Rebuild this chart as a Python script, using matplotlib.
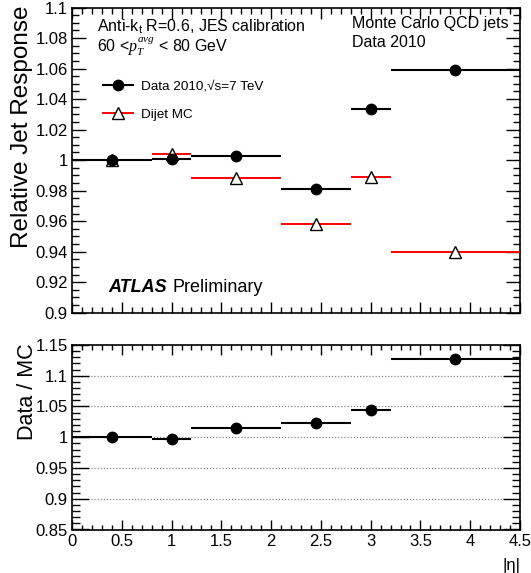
import numpy as np
import matplotlib
matplotlib.use("Agg")
import matplotlib.pyplot as plt
from matplotlib.ticker import MultipleLocator
from matplotlib.lines import Line2D

plt.rcParams['font.family'] = ['Liberation Sans', 'DejaVu Sans']
plt.rcParams['mathtext.fontset'] = 'custom'
plt.rcParams['mathtext.rm'] = 'Liberation Sans'
plt.rcParams['mathtext.it'] = 'Liberation Serif:italic'
plt.rcParams['mathtext.bf'] = 'Liberation Sans:bold'

# ---- data ----
eta_edges = [0.0, 0.8, 1.2, 2.1, 2.8, 3.2, 4.5]
data_resp = [1.000, 1.001, 1.0026, 0.9808, 1.0332, 1.059]
data_err = [0.0012, 0.0012, 0.0010, 0.0015, 0.0030, 0.0030]
mc_resp = [1.000, 1.004, 0.988, 0.9582, 0.9889, 0.9397]
mc_err = [0.0008, 0.0010, 0.0008, 0.0010, 0.0015, 0.0020]
ratio = [1.000, 0.997, 1.0148, 1.0236, 1.0448, 1.127]
ratio_err = [0.0012, 0.0012, 0.0010, 0.0015, 0.0030, 0.0030]

edges = np.array(eta_edges)
centers = 0.5 * (edges[:-1] + edges[1:])
halfw = 0.5 * (edges[1:] - edges[:-1])

W, H = 531, 573
fig = plt.figure(figsize=(W / 100, H / 100), dpi=100)

def axrect(l, t, r, b):
    return [l / W, 1 - b / H, (r - l) / W, (b - t) / H]

ax1 = fig.add_axes(axrect(72, 7.5, 520, 312.7))
ax2 = fig.add_axes(axrect(72, 345, 520, 529.5))

fmt = matplotlib.ticker.FuncFormatter(lambda v, p: ('%g' % round(v, 3)))

for ax in (ax1, ax2):
    for s in ax.spines.values():
        s.set_linewidth(1.2)
    ax.tick_params(which='both', direction='in', top=True, right=True, width=1.0,
                   labelsize=12, pad=3)
    ax.set_xlim(0, 4.5)
    ax.xaxis.set_major_locator(MultipleLocator(0.5))
    ax.xaxis.set_minor_locator(MultipleLocator(0.1))

# top panel
ax1.set_ylim(0.9, 1.1)
ax1.yaxis.set_major_locator(MultipleLocator(0.02))
ax1.yaxis.set_minor_locator(MultipleLocator(0.005))
ax1.tick_params(axis='y', which='major', length=10)
ax1.tick_params(axis='y', which='minor', length=5)
ax1.tick_params(axis='x', which='major', length=8)
ax1.tick_params(axis='x', which='minor', length=4)
ax1.tick_params(axis='x', labelbottom=False)
ax1.yaxis.set_major_formatter(fmt)

ax1.errorbar(centers, data_resp, xerr=halfw, yerr=data_err, fmt='o', color='black',
             ms=7.5, elinewidth=1.5, capsize=0, zorder=4)
ax1.errorbar(centers, mc_resp, xerr=halfw, yerr=mc_err, fmt='none', ecolor='red',
             elinewidth=1.4, capsize=0, zorder=3)
ax1.plot(centers, mc_resp, linestyle='none', marker='^', ms=8.5, mfc='white',
         mec='black', mew=1.0, zorder=3.5)

# legend
h_data = Line2D([], [], color='black', marker='o', ms=7.5, lw=1.5)
h_mc = Line2D([], [], color='red', marker='^', ms=8, mfc='white', mec='black', mew=1.0, lw=1.4)
leg = ax1.legend([h_data, h_mc], ['Data 2010,√s=7 TeV', 'Dijet MC'],
                 loc='upper left', bbox_to_anchor=(0.069, 0.762), frameon=False,
                 fontsize=9.7, handlelength=2.2, handletextpad=0.6, labelspacing=1.2,
                 borderpad=0, borderaxespad=0)

fig.text(97 / W, 1 - 31.5 / H, r'Anti-k$_{\mathrm{t}}$ R=0.6, JES calibration', fontsize=11.5,
         ha='left', va='baseline')
fig.text(97 / W, 1 - 51.5 / H, r'60 <$p_{T}^{avg}$ < 80 GeV', fontsize=11.5,
         ha='left', va='baseline')
fig.text(352.5 / W, 1 - 28 / H, 'Monte Carlo QCD jets', fontsize=11.5, ha='left', va='baseline')
fig.text(352.5 / W, 1 - 47 / H, 'Data 2010', fontsize=11.5, ha='left', va='baseline')
fig.text(108 / W, 1 - 292.5 / H, 'ATLAS', fontsize=13, fontweight='bold', style='italic',
         ha='left', va='baseline')
fig.text(172 / W, 1 - 292.5 / H, 'Preliminary', fontsize=13, ha='left', va='baseline')

fig.text(28 / W, 1 - 5 / H, 'Relative Jet Response', fontsize=17.5, rotation=90,
         rotation_mode='anchor', ha='right', va='baseline')

# bottom panel
ax2.set_ylim(0.85, 1.15)
ax2.yaxis.set_major_locator(MultipleLocator(0.05))
ax2.yaxis.set_minor_locator(MultipleLocator(0.01))
ax2.tick_params(axis='y', which='major', length=12)
ax2.tick_params(axis='y', which='minor', length=6)
ax2.tick_params(axis='x', which='major', length=7)
ax2.tick_params(axis='x', which='minor', length=3.5)
ax2.yaxis.set_major_formatter(fmt)
ax2.xaxis.set_major_formatter(fmt)
for yv in ax2.get_yticks():
    if 0.85 + 1e-6 < yv < 1.15 - 1e-6:
        ax2.axhline(yv, color='#888888', lw=0.9, ls=(0, (1, 1.5)), zorder=1)
ax2.errorbar(centers, ratio, xerr=halfw, yerr=ratio_err, fmt='o', color='black',
             ms=7.5, elinewidth=1.5, capsize=0, zorder=4)

fig.text(33 / W, 1 - 343 / H, 'Data / MC', fontsize=15.5, rotation=90,
         rotation_mode='anchor', ha='right', va='baseline')
fig.text(521 / W, 1 - 570 / H, '|η|', fontsize=12, ha='right', va='baseline')

fig.savefig('out.png', dpi=100)
